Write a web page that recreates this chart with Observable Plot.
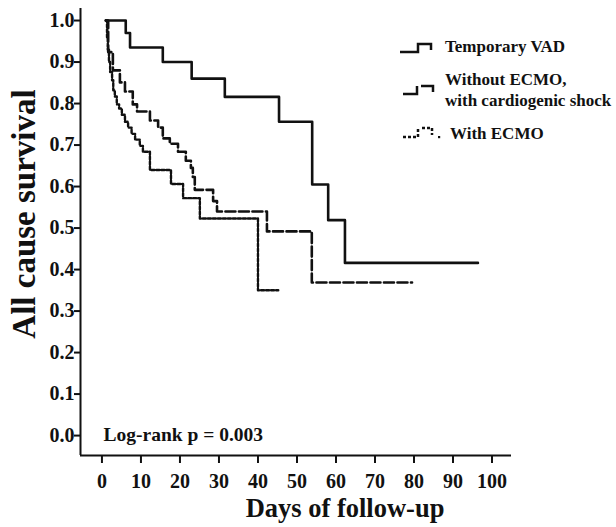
<!DOCTYPE html>
<html><head><meta charset="utf-8">
<script src="https://cdn.jsdelivr.net/npm/d3@7"></script>
<script src="https://cdn.jsdelivr.net/npm/@observablehq/plot@0.6"></script>
<style>
body{margin:0;background:#fff;}
#wrap{position:relative;width:616px;height:527px;font-family:"Liberation Serif","Times New Roman",serif;}
#legend{position:absolute;left:0;top:0;pointer-events:none;}
</style></head><body><div id="wrap"></div>
<script>
// ---- data (days of follow-up, survival) ----
const vadDays   = [1.0, 6.1, 7.2, 15.6, 23.0, 31.5, 45.4, 53.9, 58.0, 62.3, 96.4];
const vadSurv   = [1.0, 0.970, 0.935, 0.900, 0.860, 0.816, 0.756, 0.605, 0.519, 0.416, 0.416];

const shockDays = [1.0, 1.6, 2.8, 4.6, 5.9, 7.9, 9.0, 12.3, 14.4, 15.6, 17.4, 19.5, 21.5, 22.8, 23.3, 23.8, 28.5, 29.5, 42.3, 53.8, 79.5];
const shockSurv = [1.0, 0.924, 0.880, 0.851, 0.829, 0.798, 0.781, 0.759, 0.742, 0.716, 0.703, 0.684, 0.662, 0.645, 0.623, 0.592, 0.565, 0.540, 0.492, 0.369, 0.369];

const ecmoDays  = [1.0, 1.3, 1.5, 1.8, 2.1, 2.6, 2.9, 3.3, 3.8, 4.4, 5.1, 5.9, 6.7, 7.6, 8.5, 9.7, 10.5, 12.3, 17.7, 20.8, 25.1, 40.0, 45.2];
const ecmoSurv  = [1.0, 0.96, 0.93, 0.90, 0.876, 0.856, 0.832, 0.817, 0.798, 0.788, 0.773, 0.756, 0.742, 0.727, 0.713, 0.698, 0.684, 0.640, 0.606, 0.572, 0.523, 0.350, 0.350];

const xTicks = [0, 10, 20, 30, 40, 50, 60, 70, 80, 90, 100];
const yTicks = [0, 0.1, 0.2, 0.3, 0.4, 0.5, 0.6, 0.7, 0.8, 0.9, 1.0];
const xTitle = "Days of follow-up";
const yTitle = "All cause survival";
const note = "Log-rank p = 0.003";
const legendNames = ["Temporary VAD", "Without ECMO,", "with cardiogenic shock", "With ECMO"];

const xDomain = [-5.5, 105];
const yDomain = [-0.048, 1.029];
const ink = "#111";

const toRows = (days, surv) => days.map((d, i) => ({day: d, surv: surv[i]}));

const chart = Plot.plot({
  width: 616, height: 527,
  marginLeft: 80, marginRight: 105, marginTop: 8, marginBottom: 72,
  style: {fontFamily: "'Liberation Serif','Times New Roman',serif", fontWeight: "bold", background: "#fff", color: ink},
  x: {domain: xDomain},
  y: {domain: yDomain},
  marks: [
    Plot.ruleX([xDomain[0]], {y1: yDomain[0], y2: yDomain[1], stroke: ink, strokeWidth: 2}),
    Plot.ruleY([yDomain[0]], {x1: xDomain[0], x2: xDomain[1], stroke: ink, strokeWidth: 2}),
    Plot.axisY({ticks: yTicks, tickFormat: d3.format(".1f"), tickSize: 6, tickPadding: 0, fontSize: 20, strokeWidth: 2, label: null}),
    Plot.axisX({ticks: xTicks, tickSize: 8, tickPadding: 10, fontSize: 20, strokeWidth: 2, label: null}),
    Plot.line(toRows(vadDays, vadSurv), {x: "day", y: "surv", curve: "step-after", stroke: ink, strokeWidth: 2.6}),
    Plot.line(toRows(shockDays, shockSurv), {x: "day", y: "surv", curve: "step-after", stroke: ink, strokeWidth: 2.6, strokeDasharray: "10,3.5"}),
    Plot.line(toRows(ecmoDays, ecmoSurv), {x: "day", y: "surv", curve: "step-after", stroke: ink, strokeWidth: 2.4, strokeDasharray: "3,2"}),
    Plot.text([yTitle], {frameAnchor: "left", textAnchor: "middle", rotate: -90, dx: -56, dy: -18, fontSize: 33}),
    Plot.text([xTitle], {frameAnchor: "bottom", textAnchor: "middle", dx: 49, dy: 61, lineAnchor: "bottom", fontSize: 26.5}),
    Plot.text([note], {frameAnchor: "bottom-left", dx: 23, dy: -15, lineAnchor: "bottom", textAnchor: "start", fontSize: 19.5})
  ]
});
const wrap = document.getElementById("wrap");
wrap.appendChild(chart);

// legend overlay
const ns = "http://www.w3.org/2000/svg";
const lg = document.createElementNS(ns, "svg");
lg.setAttribute("id", "legend");
lg.setAttribute("width", 616); lg.setAttribute("height", 527);
const glyphs = [
  {d: "M400,52 H418 V44 H431 V50", dash: null},
  {d: "M403,94 H417 V86 M421,86 H433 V92", dash: null},
  {d: "M403,137 H418 V128 M422,128 H432 V135", dash: "3,2"}
];
glyphs.forEach(g => {
  const p = document.createElementNS(ns, "path");
  p.setAttribute("d", g.d); p.setAttribute("fill", "none");
  p.setAttribute("stroke", ink); p.setAttribute("stroke-width", 2.5);
  if (g.dash) p.setAttribute("stroke-dasharray", g.dash);
  lg.appendChild(p);
});
const dot = document.createElementNS(ns, "rect");
dot.setAttribute("x", 438); dot.setAttribute("y", 136); dot.setAttribute("width", 2.2); dot.setAttribute("height", 2.2); dot.setAttribute("fill", ink);
lg.appendChild(dot);
const labels = [[legendNames[0], 445, 52], [legendNames[1], 445, 85], [legendNames[2], 445, 106], [legendNames[3], 450, 139]];
labels.forEach(([t, x, y]) => {
  const e = document.createElementNS(ns, "text");
  e.setAttribute("x", x); e.setAttribute("y", y);
  e.setAttribute("font-size", 17); e.setAttribute("font-weight", "bold");
  e.setAttribute("font-family", "'Liberation Serif','Times New Roman',serif");
  e.setAttribute("fill", ink);
  e.textContent = t;
  lg.appendChild(e);
});
wrap.appendChild(lg);
</script></body></html>
